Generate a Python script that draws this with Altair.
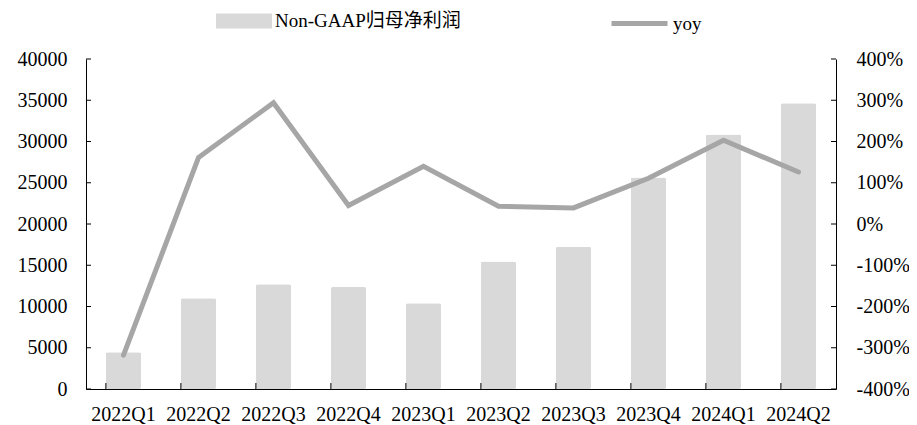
import altair as alt
import pandas as pd

quarters = ["2022Q1", "2022Q2", "2022Q3", "2022Q4", "2023Q1",
            "2023Q2", "2023Q3", "2023Q4", "2024Q1", "2024Q2"]
profit = [4450, 11000, 12700, 12350, 10400, 15450, 17250, 25650, 30850, 34650]
yoy_pct = [-318, 161, 294, 45, 140, 43, 39, 111, 203, 126]

left_ticks = [0, 5000, 10000, 15000, 20000, 25000, 30000, 35000, 40000]
right_ticks = [-400, -300, -200, -100, 0, 100, 200, 300, 400]

bar_name = "Non-GAAP归母净利润"
line_name = "yoy"

df = pd.DataFrame({"quarter": quarters, "profit": profit, "yoy": yoy_pct})
df["s_bar"] = bar_name
df["s_line"] = line_name

FONT = "Liberation Serif, Noto Sans CJK SC"
W, H = 750, 330

xscale = alt.Scale(paddingInner=0.53, paddingOuter=0.265)
xaxis = alt.Axis(title=None, labelAngle=0, labelFont=FONT, labelFontSize=20,
                 labelColor="#000", domainColor="#000", domainWidth=1,
                 ticks=False, labelPadding=15, grid=False)

lscale = alt.Scale(domain=[0, 40000])
rscale = alt.Scale(domain=[-400, 400])

bars = alt.Chart(df).mark_bar(cornerRadius=2).encode(
    x=alt.X("quarter:N", sort=quarters, scale=xscale, axis=xaxis),
    y=alt.Y("profit:Q", scale=lscale,
            axis=alt.Axis(orient="left", title=None, values=left_ticks, format="d",
                          labelFont=FONT, labelFontSize=20, labelColor="#000",
                          domainColor="#000", ticks=False, labelPadding=19,
                          grid=False)),
    fill=alt.Fill("s_bar:N", scale=alt.Scale(range=["#d9d9d9"]),
                  legend=alt.Legend(title=None, orient="none", legendX=130, legendY=-66,
                                    labelFont=FONT, labelFontSize=19, labelColor="#000",
                                    labelLimit=0,
                                    symbolType="M-1,-0.27L1,-0.27L1,0.27L-1,0.27Z",
                                    symbolSize=3136, symbolStrokeWidth=0,
                                    labelOffset=3, padding=0)),
)

line = alt.Chart(df).mark_line(strokeWidth=5, strokeCap="round", strokeJoin="miter").encode(
    x=alt.X("quarter:N", sort=quarters, scale=xscale, axis=xaxis),
    y=alt.Y("yoy:Q", scale=rscale,
            axis=alt.Axis(orient="right", title=None, values=right_ticks,
                          labelExpr="datum.value + '%'",
                          labelFont=FONT, labelFontSize=20, labelColor="#000",
                          domainColor="#000", ticks=False, labelPadding=20,
                          grid=False)),
    stroke=alt.Stroke("s_line:N", scale=alt.Scale(range=["#a6a6a6"]),
                      legend=alt.Legend(title=None, orient="none", legendX=523, legendY=-66,
                                        labelFont=FONT, labelFontSize=19, labelColor="#000",
                                        labelLimit=0,
                                        symbolType="stroke", symbolSize=3136,
                                        symbolStrokeWidth=5,
                                        labelOffset=3, padding=0)),
)

lt = alt.Chart(pd.DataFrame({"v": left_ticks})).mark_rule(color="#000", strokeWidth=1).encode(
    y=alt.Y("v:Q", scale=lscale, axis=None),
    x=alt.value(0), x2=alt.value(5))

rt = alt.Chart(pd.DataFrame({"v": right_ticks})).mark_rule(color="#000", strokeWidth=1).encode(
    y=alt.Y("v:Q", scale=rscale, axis=None),
    x=alt.value(W - 5), x2=alt.value(W))

bt = alt.Chart(df).mark_rule(color="#000", strokeWidth=1).encode(
    x=alt.X("quarter:N", sort=quarters, scale=xscale, axis=xaxis, bandPosition=0),
    y=alt.value(H - 6), y2=alt.value(H))

chart = alt.layer(bars, line, lt, rt, bt).resolve_scale(
    y="independent", fill="independent", stroke="independent"
).properties(
    width=W, height=H,
    autosize=alt.AutoSizeParams(type="none"),
    padding={"left": 78, "top": 51, "right": 73, "bottom": 36},
).configure_view(stroke=None)

chart.save("out.html", embed_options={"renderer": "svg", "actions": False})
